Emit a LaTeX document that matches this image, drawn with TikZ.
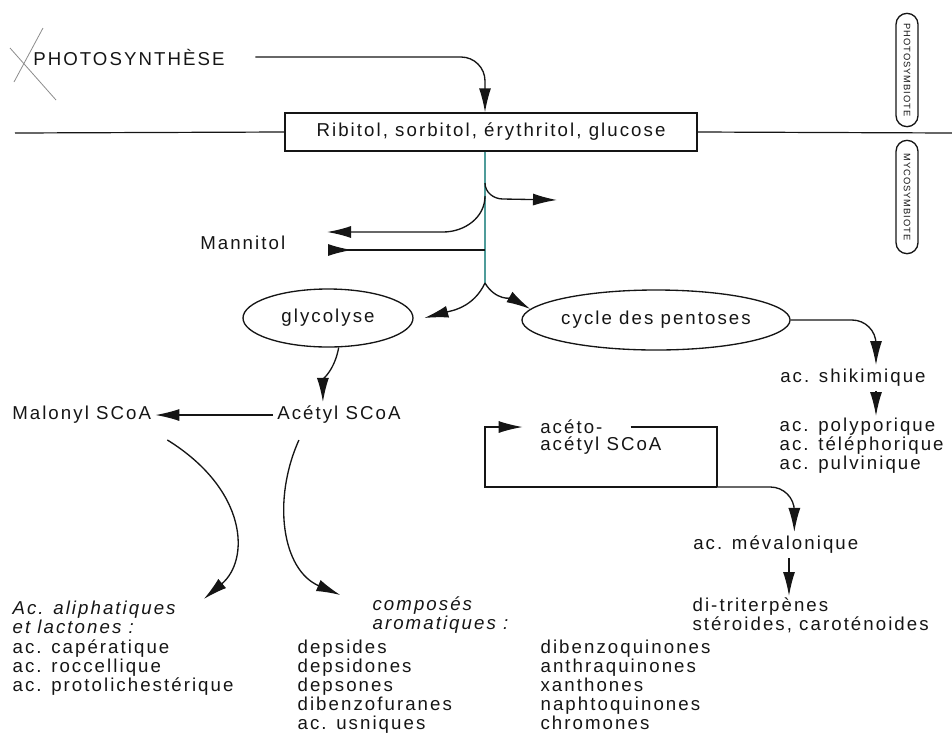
\documentclass[tikz,border=0pt]{standalone}
\usepackage{fontspec}
\setmainfont{Liberation Sans}[LetterSpace=11]
\usetikzlibrary{arrows.meta, positioning, shapes.geometric, shapes.misc, calc}
\definecolor{inkgray}{HTML}{151515}
\definecolor{stemteal}{HTML}{4F9C9A}
\definecolor{scribble}{HTML}{8C8C8C}
\newcommand{\mainsize}{\fontsize{14pt}{14.4pt}\selectfont}
\newcommand{\symbsize}{\fontsize{7pt}{8pt}\selectfont}
\tikzset{
	textnode/.style={
			inner sep=3pt,
			text=inkgray,
			font=\mainsize
		},
	listnode/.style={
			textnode,
			inner sep=1pt,
			align=left,
			anchor=north west
		},
	boxnode/.style={
			draw=inkgray,
			line width=1pt,
			minimum width=309pt,
			minimum height=28.5pt,
			text=inkgray,
			font=\mainsize
		},
	ovalnode/.style={
			ellipse,
			draw=inkgray,
			line width=1pt,
			inner sep=0pt,
			text=inkgray,
			font=\mainsize
		},
	symbnode/.style={
			rounded rectangle,
			draw=inkgray,
			line width=1pt,
			rotate=-90,
			minimum width=87pt,
			minimum height=16.5pt,
			inner sep=1pt,
			text=inkgray,
			font=\symbsize
		},
	arrowline/.style={
			draw=inkgray,
			line width=1pt,
			-{Latex[length=18pt,width=9pt]}
		},
	backarrowline/.style={
			draw=inkgray,
			line width=1pt,
			{Latex[length=18pt,width=9pt,reversed]}-
		},
	plainline/.style={
			draw=inkgray,
			line width=0.9pt
		},
	stemline/.style={
			draw=stemteal,
			line width=1pt
		}
}

\begin{document}
\begin{tikzpicture}[x=0.75pt, y=-0.75pt]
\useasboundingbox (0,0) rectangle (952,747);

\node[textnode, anchor=west] (photo) at (29,57) {PHOTOSYNTHÈSE};
\node[boxnode] (sugars) at (491,132) {Ribitol, sorbitol, érythritol, glucose};
\node[symbnode] (phsym) at (907,70) {PHOTOSYMBIOTE};
\node[symbnode] (mysym) at (907,197) {MYCOSYMBIOTE};
\node[textnode, anchor=west] (mannitol) at (196,243) {Mannitol};
\node[ovalnode, minimum width=127.5pt, minimum height=43.5pt] (glyc) at (328,318) {glycolyse};
\node[ovalnode, minimum width=190.5pt, minimum height=45pt] (cycle) at (656,320) {cycle des pentoses};
\node[textnode, anchor=west] (acetyl) at (273,415) {Acétyl SCoA};
\node[textnode, anchor=west] (malonyl) at (8,415) {Malonyl SCoA};
\node[textnode, anchor=west] (aceto1) at (536,427) {acéto-};
\node[textnode, anchor=west] (aceto2) at (536,446) {acétyl SCoA};
\node[textnode, anchor=west] (shik) at (776,378) {ac. shikimique};
\node[listnode] (poly) at (778,416) {ac. polyporique\\ac. téléphorique\\ac. pulvinique};
\node[textnode, anchor=west] (mev) at (689,545) {ac. mévalonique};
\node[listnode] (diter) at (691,596) {di-triterpènes\\stéroides, caroténoides};
\node[listnode, font=\mainsize\itshape] (aliphT) at (11,599) {Ac. aliphatiques\\et lactones :};
\node[listnode] (aliphL) at (11,638) {ac. capératique\\ac. roccellique\\ac. protolichestérique};
\node[listnode, font=\mainsize\itshape] (aromT) at (371,595) {composés\\aromatiques :};
\node[listnode] (aromA) at (296,638) {depsides\\depsidones\\depsones\\dibenzofuranes\\ac. usniques};
\node[listnode] (aromB) at (539,638) {dibenzoquinones\\anthraquinones\\xanthones\\naphtoquinones\\chromones};

\coordinate (lineL) at (15,133);
\coordinate (lineR) at (952,133);
\coordinate (split) at (485,283);
\coordinate (b1) at (485,183);
\coordinate (b2) at (485,196);
\coordinate (b3) at (485,250);
\coordinate (out1) at (557,200);
\coordinate (mA) at (327,232);
\coordinate (mB) at (328,250);
\coordinate (loopBR) at (717,487);
\coordinate (loopBL) at (485,487);

\draw[scribble, line width=0.6pt] (43,28) -- (14,82);
\draw[scribble, line width=0.6pt] (10,48) -- (56,100);

\draw[plainline] (lineL) -- (sugars.west);
\draw[plainline] (sugars.east) -- (lineR);
\draw[arrowline, rounded corners=18pt] ([xshift=20pt]photo.east) -| (sugars.north -| split);

\draw[stemline] (sugars.south -| split) -- (split);
\draw[arrowline] (b1) to[out=-90,in=180] ++(18,16) -- (out1);
\draw[arrowline] (b2) to[out=-90,in=0] ++(-42,36) -- (mA);
\draw[backarrowline] (mB) -- (b3);
\draw[arrowline] (split) to[out=-115,in=15] ([xshift=8pt]glyc.east);
\draw[arrowline] (split) to[out=-60,in=150] (cycle.175);

\draw[arrowline] (glyc.-70) to[out=-100,in=90] ([xshift=-12pt]acetyl.north);
\draw[arrowline] (acetyl.west) -- (malonyl.east);
\draw[arrowline] ([shift={(12,12)}]malonyl.south east) .. controls (248,490) and (250,560) .. ([xshift=20pt]aliphT.north east);
\draw[arrowline] ([shift={(-40,12)}]acetyl.south) .. controls (272,500) and (282,570) .. ([xshift=-23pt]aromT.north west);

\draw[plainline] ([xshift=18pt]aceto1.east) -- (aceto1.east -| loopBR) -- (loopBR);
\draw[arrowline, shorten >=10pt] (loopBR) -- (loopBL) |- (aceto1.west);
\draw[arrowline, rounded corners=18pt] (loopBR) -| ([xshift=79pt]mev.north west);
\draw[arrowline] ([xshift=75pt]mev.south west) -- ([xshift=75pt]mev.south west |- diter.north);

\draw[arrowline, rounded corners=18pt] (cycle.east) -| ([xshift=75pt]shik.north west);
\draw[arrowline] ([xshift=75pt]shik.south west) -- ([xshift=75pt]shik.south west |- poly.north);

\end{tikzpicture}
\end{document}
